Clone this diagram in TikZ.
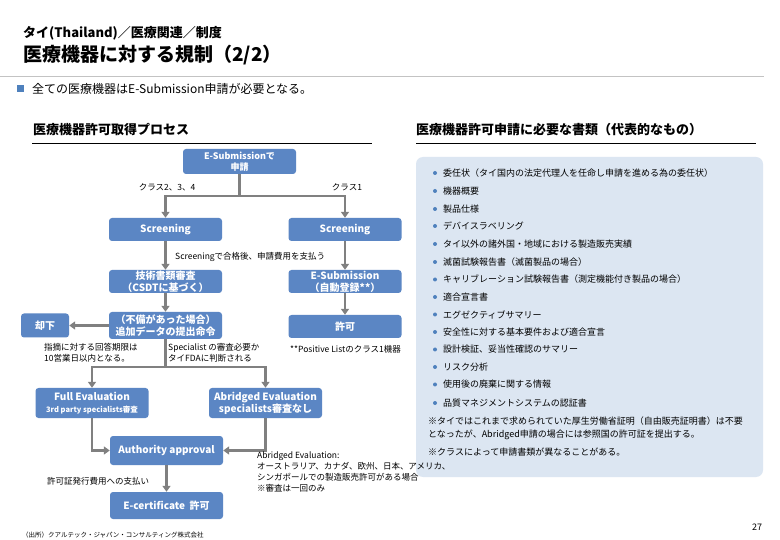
\documentclass[tikz,border=0pt]{standalone}
\usepackage{fontspec}
\setmainfont{Noto Sans CJK JP}
\usetikzlibrary{arrows.meta}
\definecolor{boxblue}{RGB}{91,134,196}
\definecolor{panelblue}{RGB}{220,230,242}
\definecolor{arrgray}{RGB}{128,128,128}
\definecolor{dotblue}{RGB}{79,129,189}
\definecolor{rulegray}{RGB}{195,195,195}
\begin{document}
\begin{tikzpicture}[x=1pt,y=-1pt,
 box/.style={fill=boxblue, rounded corners=3pt, text=white, font=\bfseries\fontsize{10}{12}\selectfont, align=center, inner sep=0pt, minimum width=113pt},
 arr/.style={draw=arrgray, line width=2.6pt, -{Triangle[length=6pt,width=8pt]}},
 conn/.style={draw=arrgray, line width=2.6pt},
 lbl/.style={font=\fontsize{8.5}{11}\selectfont, inner sep=0pt, align=left},
 itm/.style={font=\fontsize{9}{11}\selectfont, inner sep=0pt, anchor=west},
 head/.style={font=\bfseries\fontsize{13}{15}\selectfont, inner sep=0pt, anchor=west}]
\useasboundingbox (0,0) rectangle (780,540);
\fill[white] (0,0) rectangle (780,540);
% right panel background
\fill[panelblue, rounded corners=7pt] (416,157) rectangle (763,477);
% titles
\node[inner sep=0pt, anchor=west, font=\bfseries\fontsize{13}{15}\selectfont] (t1) at (23,33) {タイ(Thailand)／医療関連／制度};
\node[inner sep=0pt, anchor=west, font=\bfseries\fontsize{19}{22}\selectfont] (t2) at (23,55) {医療機器に対する規制（2/2）};
\draw[rulegray, line width=1pt] (0,77) -- (764,77);
\fill[dotblue] (17,85) rectangle (24,92);
\node[inner sep=0pt, anchor=west, font=\fontsize{12}{14}\selectfont] (t3) at (32,89) {全ての医療機器はE-Submission申請が必要となる。};
% section headings
\node[head] (hL) at (33,130) {医療機器許可取得プロセス};
\draw[black, line width=0.9pt] (32,143) -- (372,143);
\node[head] (hR) at (416,130) {医療機器許可申請に必要な書類（代表的なもの）};
\draw[black, line width=0.9pt] (416,143) -- (756,143);
% flow boxes
\node[box, minimum height=25pt, font=\bfseries\fontsize{9}{11}\selectfont] (esub) at (239.5,161.5) {E-Submissionで\\申請};
\node[box, minimum height=23pt] (scrL) at (165.5,229.5) {Screening};
\node[box, minimum height=23pt] (scrR) at (345,229.5) {Screening};
\node[box, minimum height=23pt] (csdt) at (165.5,281.5) {技術書類審査\\（CSDTに基づく）};
\node[box, minimum height=23pt] (esub2) at (345,281.5) {E-Submission\\（自動登録**）};
\node[box, minimum height=27pt] (addl) at (165.5,325.5) {（不備があった場合）\\追加データの提出命令};
\node[box, minimum height=24pt, minimum width=48pt] (reject) at (45,325.5) {却下};
\node[box, minimum height=23pt] (kyoka) at (345,326.5) {許可};
\node[box, minimum height=30pt] (full) at (92,403) {Full Evaluation\\{\fontsize{7.5}{10}\selectfont 3rd party specialists審査}};
\node[box, minimum height=30pt] (abr) at (265.5,403) {Abridged Evaluation\\specialists審査なし};
\node[box, minimum height=29pt] (auth) at (166.5,450.5) {Authority approval};
\node[box, minimum height=27pt] (ecert) at (166.5,505.5) {E-certificate\ \ 許可};
% connectors
\coordinate (j1) at (239.5,196);
\draw[conn] (esub) -- (j1);
\draw[arr] (j1) -| (scrL);
\draw[arr] (j1) -| (scrR);
\draw[arr] (scrL) -- (csdt);
\draw[arr] (scrR) -- (esub2);
\draw[arr] (csdt) -- (addl);
\draw[arr] (esub2) -- (kyoka);
\draw[arr] (addl) -- (reject);
\coordinate (j2) at (165.5,367);
\draw[conn] (addl) -- (j2);
\draw[arr] (j2) -| (full);
\draw[arr] (j2) -| (abr);
\draw[arr] (full) |- (auth);
\draw[arr] (abr) |- (auth);
\draw[arr] (auth) -- (ecert);
% labels
\node[lbl] (c234) at (167,187) {クラス2、3、4};
\node[lbl] (c1) at (347,187) {クラス1};
\node[lbl, anchor=west] (pay) at (175,257) {Screeningで合格後、申請費用を支払う};
\node[lbl, anchor=north west] (limit) at (44,343) {指摘に対する回答期限は\\10営業日以内となる。};
\node[lbl, anchor=north west] (spec) at (168,343) {Specialist の審査必要か\\タイFDAに判断される};
\node[lbl, anchor=west] (pos) at (290,349) {**Positive Listのクラス1機器};
\node[lbl, anchor=west] (fee) at (47,481) {許可証発行費用への支払い};
\node[lbl, anchor=north west] (abnote) at (257,452) {Abridged Evaluation:\\オーストラリア、カナダ、欧州、日本、アメリカ、\\シンガポールでの製造販売許可がある場合\\※審査は一回のみ};
\node[inner sep=0pt, anchor=west, font=\fontsize{6.5}{8}\selectfont] (src) at (22,535) {（出所）クアルテック・ジャパン・コンサルティング株式会社};
\node[inner sep=0pt, font=\fontsize{9}{11}\selectfont] (pg) at (757,527) {27};
% right panel items
\foreach \y/\t [count=\n] in {173/委任状（タイ国内の法定代理人を任命し申請を進める為の委任状）,
 191/機器概要, 209/製品仕様, 226/デバイスラベリング,
 244/タイ以外の諸外国・地域における製造販売実績,
 262/滅菌試験報告書（滅菌製品の場合）,
 279.5/キャリブレーション試験報告書（測定機能付き製品の場合）,
 297/適合宣言書, 314.5/エグゼクティブサマリー,
 332/安全性に対する基本要件および適合宣言,
 349.5/設計検証、妥当性確認のサマリー, 367/リスク分析,
 384.5/使用後の廃棄に関する情報, 403/品質マネジメントシステムの認証書}{
 \fill[dotblue] (435,\y) circle (2pt);
 \node[itm] (item\n) at (443,\y) {\t};
}
\node[itm] (n1) at (428,421) {※タイではこれまで求められていた厚生労働省証明（自由販売証明書）は不要};
\node[itm] (n2) at (428,435) {となったが、Abridged申請の場合には参照国の許可証を提出する。};
\node[itm] (n3) at (428,452) {※クラスによって申請書類が異なることがある。};
\end{tikzpicture}
\end{document}
